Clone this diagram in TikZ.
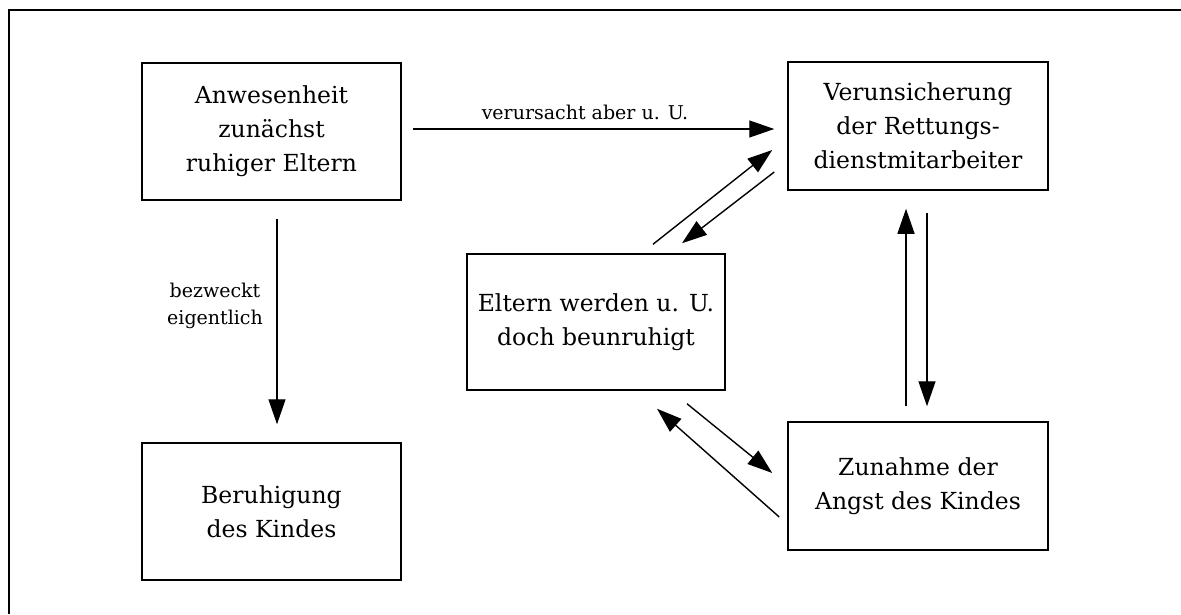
\documentclass[tikz,border=0pt]{standalone}
\usepackage{fontspec}
\setmainfont{DejaVu Serif}
\usetikzlibrary{arrows.meta,calc}
\begin{document}
\begin{tikzpicture}[x=1pt,y=-1pt,
  box/.style={draw,line width=1.5pt,minimum width=259pt,minimum height=137pt,align=center,inner sep=0pt,
    font=\fontsize{23.5}{34}\selectfont},
  rbox/.style={box,minimum width=260pt,minimum height=128pt},
  arr/.style={line width=1.4pt,-{Triangle[length=25pt,width=17pt]}},
  lbl/.style={align=center,font=\fontsize{19}{27}\selectfont,inner sep=0pt}]
\useasboundingbox (0,0) rectangle (1181,614);
\draw[line width=2pt] (9,614) -- (9,10) -- (1181,10);
\node[box] (A) at (271.5,131.5) {Anwesenheit\\zunächst\\ruhiger Eltern};
\node[box] (B) at (271.5,511.5) {Beruhigung\\des Kindes};
\node[rbox] (V) at (918,126) {Verunsicherung\\der Rettungs-\\dienstmitarbeiter};
\node[box,minimum width=258pt,minimum height=136pt] (E) at (596,322) {Eltern werden u. U.\\doch beunruhigt};
\node[rbox] (Z) at (918,486) {Zunahme der\\Angst des Kindes};
% A -> V
\draw[arr] ($(A.east)+(11,-2.5)$) -- ($(V.west)+(-13,3)$);
\node[lbl] (l1) at (585,112) {verursacht aber u. U.};
% A -> B
\draw[arr] ($(A.south)+(5.5,18)$) -- ($(B.north)+(5.5,-18)$);
\node[lbl] (l2) at (215,306) {bezweckt\\eigentlich};
% E <-> V
\draw[arr] ($(E.north)+(57,-9)$) -- ($(V.west)+(-15,24)$);
\draw[arr] ($(V.west)+(-13,46)$) -- ($(E.north)+(86,-10)$);
% E <-> Z
\draw[arr] ($(Z.west)+(-8,31)$) -- ($(E.south)+(61,18)$);
\draw[arr] ($(E.south)+(91,13)$) -- ($(Z.west)+(-15,-13)$);
% V <-> Z
\draw[arr] ($(Z.north)+(-12,-15)$) -- ($(V.south)+(-12,18)$);
\draw[arr] ($(V.south)+(9,22)$) -- ($(Z.north)+(9,-15)$);
\end{tikzpicture}
\end{document}
